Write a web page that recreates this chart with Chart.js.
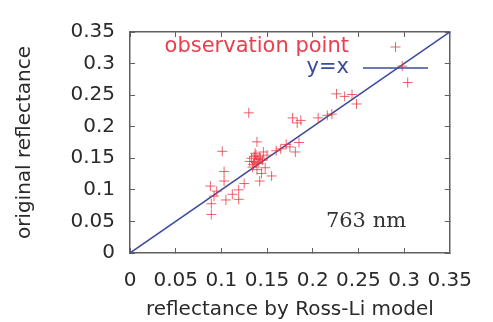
<!DOCTYPE html>
<html>
<head>
<meta charset="utf-8">
<script src="https://cdn.jsdelivr.net/npm/chart.js@4/dist/chart.umd.min.js"></script>
<style>
  html, body { margin: 0; padding: 0; background: #fff; }
  canvas { display: block; }
</style>
</head>
<body>
<canvas id="myChart" width="493" height="322"></canvas>
<script>
// Reflectance by Ross-Li model (x) vs original reflectance (y), 763 nm
const modelRefl = [
    0.130, 0.101, 0.139, 0.103, 0.103, 0.119, 0.119, 0.105, 0.088, 0.089,
    0.089, 0.112, 0.095, 0.092, 0.125,
    0.133, 0.136, 0.138, 0.140, 0.135, 0.142, 0.137, 0.141, 0.134, 0.145,
    0.139, 0.144, 0.142, 0.155, 0.148, 0.150, 0.131, 0.146, 0.160, 0.165,
    0.171, 0.181, 0.178, 0.187, 0.183, 0.206, 0.221, 0.216, 0.226, 0.235,
    0.248, 0.243, 0.298, 0.304, 0.185, 0.175, 0.138, 0.143, 0.136
];
const originalRefl = [
    0.222, 0.161, 0.176, 0.129, 0.114, 0.100, 0.085, 0.084, 0.106, 0.078,
    0.061, 0.093, 0.098, 0.090, 0.110,
    0.150, 0.145, 0.155, 0.148, 0.140, 0.152, 0.158, 0.142, 0.136, 0.147,
    0.132, 0.126, 0.114, 0.122, 0.135, 0.155, 0.145, 0.160, 0.162, 0.165,
    0.172, 0.160, 0.214, 0.210, 0.206, 0.214, 0.220, 0.218, 0.252, 0.248,
    0.236, 0.251, 0.296, 0.270, 0.175, 0.168, 0.143, 0.150, 0.153
];
const lineEnds = [0, 0.35];
const tickValues = [0, 0.05, 0.1, 0.15, 0.2, 0.25, 0.3, 0.35];

const red = 'rgba(232, 48, 60, 0.75)';
const blue = '#3b4c9c';
const textColor = '#2a2a2a';
const frameColor = '#606060';

// key inside the plot and the wavelength label
const keyPlugin = {
    id: 'key',
    afterDraw(chart) {
        const c = chart.ctx;
        const sx = chart.scales.x, sy = chart.scales.y;
        const left = sx.getPixelForValue(0);
        const top = sy.getPixelForValue(0.35);
        c.save();
        const textRight = left + 219;
        const s0 = left + 233, s1 = left + 298;
        const sc = (s0 + s1) / 2;
        const y1 = top + 15, y2 = top + 36;
        c.font = '21px "DejaVu Sans"';
        c.textAlign = 'right';
        c.textBaseline = 'middle';
        c.fillStyle = '#e8404e';
        c.fillText('observation point', textRight, y1);
        c.strokeStyle = red;
        c.lineWidth = 1;
        c.beginPath();
        c.moveTo(sc - 5, y1); c.lineTo(sc + 5, y1);
        c.moveTo(sc, y1 - 5); c.lineTo(sc, y1 + 5);
        c.stroke();
        c.fillStyle = blue;
        c.fillText('y=x', textRight, y2);
        c.strokeStyle = blue;
        c.lineWidth = 1.5;
        c.beginPath();
        c.moveTo(s0, y2); c.lineTo(s1, y2);
        c.stroke();

        c.font = '21px "DejaVu Serif"';
        c.textAlign = 'center';
        c.fillStyle = '#333';
        c.fillText('763 nm', left + 236, top + 190);
        c.restore();
    }
};

const points = modelRefl.map((x, i) => ({ x: x, y: originalRefl[i] }));

const data = {
    datasets: [{
        type: 'line',
        label: 'y=x',
        data: lineEnds.map(v => ({ x: v, y: v })),
        borderColor: blue,
        borderWidth: 1.5,
        pointRadius: 0,
        showLine: true,
        order: 2
    }, {
        type: 'scatter',
        label: 'observation point',
        data: points,
        pointStyle: 'cross',
        pointRadius: 5,
        borderColor: red,
        borderWidth: 1,
        order: 1
    }]
};

const axisFont = { family: 'DejaVu Sans', size: 20 };

// inward tick marks (negative tick length) and a solid border on every side
const frameGrid = {
    display: true,
    drawOnChartArea: false,
    drawTicks: true,
    tickLength: -5,
    color: frameColor,
    lineWidth: 1
};
const frameBorder = { display: true, color: frameColor, width: 1.5 };
const setTicks = s => { s.ticks = tickValues.map(v => ({ value: v })); };
const fmt = v => String(parseFloat(v.toFixed(2)));

const config = {
    type: 'scatter',
    data: data,
    options: {
        responsive: false,
        animation: false,
        layout: { padding: { left: 0, top: 23, right: 35, bottom: 0 } },
        plugins: {
            legend: { display: false },
            tooltip: { enabled: false }
        },
        scales: {
            x: {
                type: 'linear',
                position: 'bottom',
                min: 0,
                max: 0.35,
                grid: frameGrid,
                border: frameBorder,
                afterBuildTicks: setTicks,
                afterFit: s => { s.height = 69; },
                ticks: {
                    autoSkip: false,
                    maxRotation: 0,
                    padding: 21,
                    color: textColor,
                    font: axisFont,
                    callback: fmt
                },
                title: {
                    display: true,
                    text: 'reflectance by Ross-Li model',
                    color: textColor,
                    font: axisFont,
                    padding: { top: 0, bottom: 0 }
                }
            },
            x2: {
                type: 'linear',
                position: 'top',
                min: 0,
                max: 0.35,
                grid: frameGrid,
                border: frameBorder,
                afterBuildTicks: setTicks,
                afterFit: s => { s.height = 0; },
                ticks: { display: false }
            },
            y: {
                type: 'linear',
                position: 'left',
                min: 0,
                max: 0.35,
                grid: frameGrid,
                border: frameBorder,
                afterBuildTicks: setTicks,
                afterFit: s => { s.width = 130; },
                ticks: {
                    autoSkip: false,
                    padding: 20,
                    color: textColor,
                    font: axisFont,
                    callback: fmt
                },
                title: {
                    display: true,
                    text: 'original reflectance',
                    color: textColor,
                    font: axisFont,
                    padding: { top: 13, bottom: 0 }
                }
            },
            y2: {
                type: 'linear',
                position: 'right',
                min: 0,
                max: 0.35,
                grid: frameGrid,
                border: frameBorder,
                afterBuildTicks: setTicks,
                afterFit: s => { s.width = 0; },
                ticks: { display: false }
            }
        }
    },
    plugins: [keyPlugin]
};

const chartCtx = document.getElementById('myChart').getContext('2d');
const myChart = new Chart(chartCtx, config);
</script>
</body>
</html>
